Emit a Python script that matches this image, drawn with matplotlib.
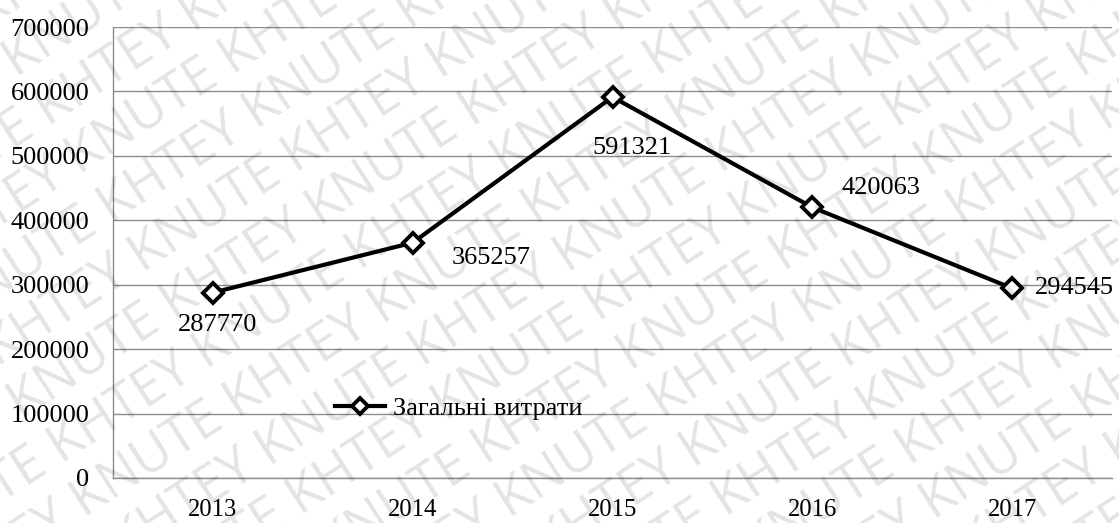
import numpy as np
import matplotlib
matplotlib.use("Agg")
import matplotlib.pyplot as plt

years = ["2013", "2014", "2015", "2016", "2017"]
costs = [287770, 365257, 591321, 420063, 294545]
series_name = "Загальні витрати"
yticks = [0, 100000, 200000, 300000, 400000, 500000, 600000, 700000]

plt.rcParams['font.family'] = ['Liberation Serif', 'DejaVu Serif']

W, H = 1119, 523
fig = plt.figure(figsize=(W / 100, H / 100), dpi=100)
ax = fig.add_axes([113 / W, 45 / H, 999 / W, 451 / H])

x = np.arange(len(years))
line, = ax.plot(x, costs, color='black', lw=3.0, marker='D', ms=10,
                mfc='white', mec='black', mew=2.8, zorder=3, label=series_name)

# data labels: offsets in points from the marker, text anchored left-center
offsets = [(-25, -23), (28, -11), (-14.5, -37), (21, 14), (16.5, 0.5)]
for xi, v, off in zip(x, costs, offsets):
    ax.annotate(str(v), (xi, v), xytext=off, textcoords='offset points',
                ha='left', va='center', fontsize=19, zorder=4)

ax.set_xlim(-0.5, 4.5)
ax.set_ylim(0, 700000)
ax.set_yticks(yticks)
ax.set_yticklabels([str(t) for t in yticks], fontsize=19)
ax.set_xticks(x)
ax.set_xticklabels(years, fontsize=17.7)
ax.tick_params(axis='y', length=0, pad=17)
ax.tick_params(axis='x', length=0, pad=15)
ax.yaxis.grid(True, color='#8c8c8c', lw=1.0)
ax.set_axisbelow(True)
for s in ['top', 'right']:
    ax.spines[s].set_visible(False)
for s in ['left', 'bottom']:
    ax.spines[s].set_color('#8c8c8c')
    ax.spines[s].set_linewidth(1.0)

ax.legend(handles=[line], loc='center left', bbox_to_anchor=(335 / W, 115 / H),
          bbox_transform=fig.transFigure, frameon=False, fontsize=19,
          handlelength=1.9, handletextpad=0.3, borderpad=0, borderaxespad=0,
          markerscale=0.85)

# watermark rows
ang = np.deg2rad(33)
nvec = np.array([-np.sin(ang), np.cos(ang)])
for k in range(-12, 13):
    cx, cy = np.array([W / 2, H / 2]) + k * 58 * nvec
    txt = "KNUTE KHTEY " * 6 if k % 2 == 0 else "KHTEY KNUTE " * 6
    fig.text(cx / W, cy / H, txt, rotation=33, rotation_mode='anchor',
             fontsize=38, color='black', alpha=0.11, family='Open Sans',
             ha='center', va='center', zorder=10)

fig.savefig("out.png", dpi=100)
